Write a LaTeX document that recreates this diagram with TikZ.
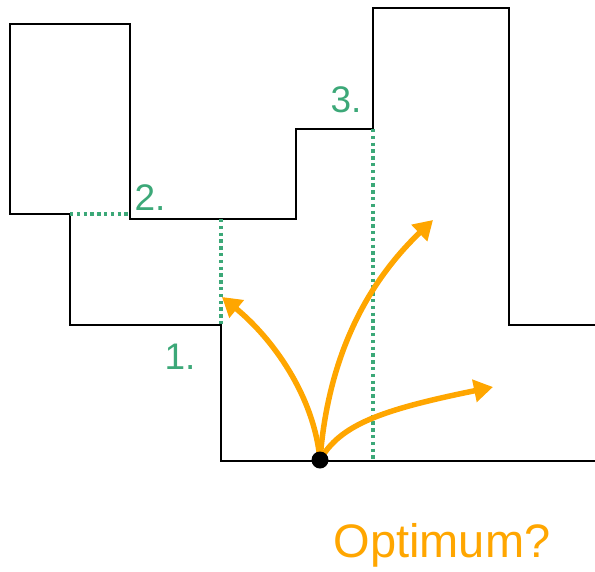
\documentclass[tikz,border=0pt]{standalone}
\usepackage{fontspec}
\setmainfont{Liberation Sans}
\usetikzlibrary{positioning, calc, arrows.meta}
\definecolor{stepgreen}{RGB}{60,168,120}
\definecolor{moveorange}{RGB}{255,166,0}
\tikzset{
    wall/.style={line width=2.4pt, line join=miter},
    gap/.style={stepgreen, line width=3.4pt, dash pattern=on 3.4pt off 3.4pt},
    move/.style={moveorange, line width=5.5pt, -{Triangle[length=19pt,width=22pt]}},
    steplabel/.style={stepgreen, font=\fontsize{37}{37}\selectfont},
    dot/.style={circle, fill=black, inner sep=0pt, minimum size=17pt}
}

\begin{document}
\begin{tikzpicture}[x=1pt, y=-1pt]
    \useasboundingbox (0,0) rectangle (595,571);
    \coordinate (a) at (70,214);
    \coordinate (b) at (130,214);
    \coordinate (c) at (221,219);
    \coordinate (d) at (221,325);
    \coordinate (e) at (373,129);
    \coordinate (f) at (373,461);
    \draw[wall] (595,325) -- (509,325) -- (509,8) -- (373,8) -- (e)
        -- (296,129) -- (296,219) -- (130,219) -- (130,24) -- (10,24)
        -- (10,214) -- (a) -- (70,325) -- (d) -- (221,461) -- (595,461);
    \draw[gap] (a) -- (b);
    \draw[gap] (c) -- (d);
    \draw[gap] (e) -- (f);
    \node[steplabel] (one) at (180,357) {1.};
    \node[steplabel] (two) at (150,198) {2.};
    \node[steplabel] (three) at (346,100) {3.};
    \coordinate (o) at (320,460);
    \coordinate (left) at (222,297);
    \coordinate (up) at (433,220);
    \coordinate (right) at (493,387);
    \draw[move] (o) .. controls (314,395) and (272,338) .. (left);
    \draw[move] (o) .. controls (328,355) and (368,282) .. (up);
    \draw[move] (o) .. controls (340,425) and (380,410) .. (right);
    \node[dot] (opt) at (o) {};
    \node[moveorange, font=\fontsize{47}{47}\selectfont] (question) at (442,545) {Optimum?};
\end{tikzpicture}
\end{document}
